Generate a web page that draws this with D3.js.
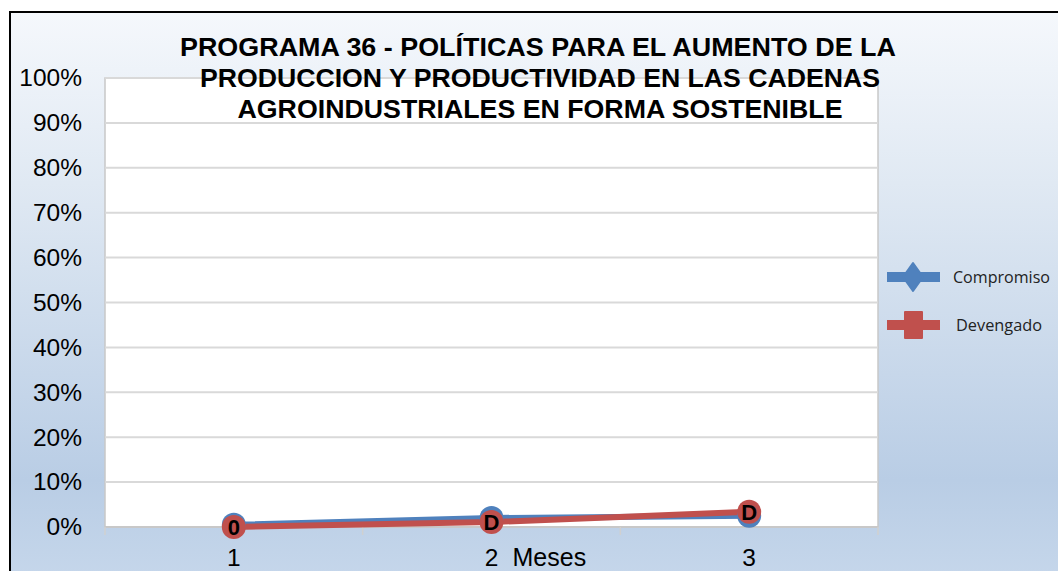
<!DOCTYPE html>
<html>
<head>
<meta charset="utf-8">
<script src="https://cdn.jsdelivr.net/npm/d3@7"></script>
<style>
  html, body { margin: 0; padding: 0; background: #fff; }
  svg { display: block; }
</style>
</head>
<body>
<svg id="visualization" width="1058" height="571"></svg>
<script>
const titleLines = [
    "PROGRAMA 36 - POLÍTICAS PARA EL AUMENTO DE LA",
    "PRODUCCION Y PRODUCTIVIDAD EN LAS CADENAS",
    "AGROINDUSTRIALES EN FORMA SOSTENIBLE"
];
const meses = ["1", "2", "3"];
const compromiso = [0.005, 0.02, 0.025];
const devengado = [0.0, 0.011, 0.034];
const pointLabels = ["0", "D", "D"];
const yTicks = [0, 0.1, 0.2, 0.3, 0.4, 0.5, 0.6, 0.7, 0.8, 0.9, 1];
const seriesNames = ["Compromiso", "Devengado"];

const blue = "#4f81bd";
const red = "#c0504d";
const font = "Liberation Sans, Arial, sans-serif";

const svg = d3.select("#visualization");
const W = 1058, H = 571;
const plot = { left: 105, right: 878, top: 78, bottom: 527 };

// background gradient
const defs = svg.append("defs");
const grad = defs.append("linearGradient")
    .attr("id", "bg")
    .attr("x1", 0).attr("y1", 0).attr("x2", 0).attr("y2", 1);
grad.append("stop").attr("offset", "0%").attr("stop-color", "#f5f8fc");
grad.append("stop").attr("offset", "30%").attr("stop-color", "#e0e9f3");
grad.append("stop").attr("offset", "82%").attr("stop-color", "#b9cde5");
grad.append("stop").attr("offset", "100%").attr("stop-color", "#c6d7eb");

svg.append("rect")
    .attr("x", 10).attr("y", 12)
    .attr("width", W).attr("height", H)
    .attr("fill", "url(#bg)");

// outer border (top + left)
svg.append("path")
    .attr("d", `M10,${H + 2}V12H${W + 2}`)
    .attr("fill", "none")
    .attr("stroke", "#000")
    .attr("stroke-width", 2);

const xScale = d3.scaleBand()
    .domain(meses)
    .range([plot.left, plot.right])
    .padding(0);
const xMid = d => xScale(d) + xScale.bandwidth() / 2;

const yScale = d3.scaleLinear()
    .domain([0, 1])
    .range([plot.bottom, plot.top]);

// plot area
svg.append("rect")
    .attr("x", plot.left).attr("y", plot.top)
    .attr("width", plot.right - plot.left)
    .attr("height", plot.bottom - plot.top)
    .attr("fill", "#fff")
    .attr("stroke", "#c8c8c8")
    .attr("stroke-width", 1.5);

// gridlines
svg.append("g")
    .selectAll("line")
    .data(yTicks)
    .join("line")
    .attr("x1", plot.left).attr("x2", plot.right)
    .attr("y1", d => yScale(d)).attr("y2", d => yScale(d))
    .attr("stroke", "#d9d9d9")
    .attr("stroke-width", 2);

// y axis labels
const yAxis = svg.append("g")
    .attr("transform", `translate(${plot.left - 23},0)`)
    .call(d3.axisLeft(yScale).tickValues(yTicks).tickFormat(d3.format(".0%")).tickSize(0).tickPadding(0));
yAxis.select(".domain").remove();
yAxis.selectAll("text")
    .attr("font-family", font)
    .attr("font-size", 24.5)
    .attr("fill", "#000");

// x axis line and ticks at category boundaries
svg.append("line")
    .attr("x1", plot.left).attr("x2", plot.right)
    .attr("y1", plot.bottom).attr("y2", plot.bottom)
    .attr("stroke", "#c8c8c8").attr("stroke-width", 2);
svg.append("g")
    .selectAll("line")
    .data(meses.map(d => xScale(d)).concat([plot.right]))
    .join("line")
    .attr("x1", d => d).attr("x2", d => d)
    .attr("y1", plot.bottom).attr("y2", plot.bottom + 8)
    .attr("stroke", "#d0d0d0").attr("stroke-width", 1.5);

const xAxis = svg.append("g")
    .attr("transform", `translate(0,${plot.bottom + 22})`)
    .call(d3.axisBottom(xScale).tickSize(0).tickPadding(0));
xAxis.select(".domain").remove();
xAxis.selectAll("text")
    .attr("font-family", font)
    .attr("font-size", 24.5)
    .attr("fill", "#000");

svg.append("text")
    .attr("x", xMid("2") + 21)
    .attr("y", 566)
    .attr("font-family", font)
    .attr("font-size", 25)
    .text("Meses");

// title
const titleWidths = [716, 680, 605];
svg.append("g")
    .selectAll("text")
    .data(titleLines)
    .join("text")
    .attr("x", (d, i) => [538, 540, 540][i])
    .attr("y", (d, i) => 56 + i * 31)
    .attr("text-anchor", "middle")
    .attr("font-family", font)
    .attr("font-weight", "bold")
    .attr("font-size", 25.5)
    .attr("textLength", (d, i) => titleWidths[i])
    .attr("lengthAdjust", "spacingAndGlyphs")
    .text(d => d);

// series
const line = d3.line()
    .x(d => xMid(d.mes))
    .y(d => yScale(d.v));

const series = [
    { name: seriesNames[0], color: blue, values: compromiso },
    { name: seriesNames[1], color: red, values: devengado }
];
series.forEach(s => {
    s.points = meses.map((m, i) => ({ mes: m, v: s.values[i] }));
});

series.forEach(s => {
    svg.append("path")
        .datum(s.points)
        .attr("d", line)
        .attr("fill", "none")
        .attr("stroke", s.color)
        .attr("stroke-width", 6)
        .attr("stroke-linejoin", "round");
});

series.forEach(s => {
    svg.append("g")
        .selectAll("circle")
        .data(s.points)
        .join("circle")
        .attr("cx", d => xMid(d.mes))
        .attr("cy", d => yScale(d.v))
        .attr("r", 12)
        .attr("fill", s.color);
});

// data labels (one per month, drawn over the Devengado markers)
svg.append("g")
    .selectAll("text")
    .data(series[1].points)
    .join("text")
    .attr("x", d => xMid(d.mes))
    .attr("y", d => yScale(d.v) + 8)
    .attr("text-anchor", "middle")
    .attr("font-family", font)
    .attr("font-weight", "bold")
    .attr("font-size", 22)
    .attr("fill", "#000")
    .text((d, i) => pointLabels[i]);

// legend
const legend = svg.append("g")
    .selectAll("g")
    .data(series)
    .join("g")
    .attr("transform", (d, i) => `translate(887,${277 + i * 48})`);

legend.append("line")
    .attr("x1", 0).attr("x2", 53)
    .attr("y1", 0).attr("y2", 0)
    .attr("stroke", d => d.color)
    .attr("stroke-width", 10);

legend.append("path")
    .attr("d", (d, i) => i === 0
        ? "M26,-14L36,0L26,14L16,0Z"
        : "M18,-13H35V13H18Z")
    .attr("fill", d => d.color)
    .attr("stroke", d => d.color)
    .attr("stroke-width", 2)
    .attr("stroke-linejoin", "round");

legend.append("text")
    .attr("x", (d, i) => i === 0 ? 66 : 69)
    .attr("y", 6)
    .attr("font-family", "Open Sans, sans-serif")
    .attr("font-size", 16)
    .attr("fill", "#222")
    .attr("textLength", (d, i) => i === 0 ? 97 : 86)
    .attr("lengthAdjust", "spacingAndGlyphs")
    .text(d => d.name);
</script>
</body>
</html>
